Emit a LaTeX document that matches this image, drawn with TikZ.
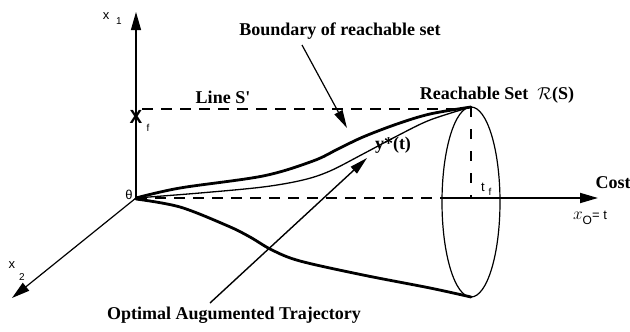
\documentclass[tikz,border=0pt]{standalone}
\usepackage{fontspec}
\setmainfont{Liberation Serif}
\setsansfont{Liberation Sans}
\usetikzlibrary{arrows.meta}
\tikzset{
  axis/.style={line width=1.2pt},
  bigarrow/.style={-{Triangle[length=18pt,width=10pt]}},
  boundary/.style={line width=2.8pt, line cap=round},
  thincurve/.style={line width=1.3pt},
  dashline/.style={line width=1.5pt, dash pattern=on 11pt off 8pt},
  lbl/.style={font=\bfseries\fontsize{18}{20}\selectfont, inner sep=0pt},
  axlbl/.style={font=\sffamily\fontsize{13}{14}\selectfont, inner sep=0pt},
  sublbl/.style={font=\sffamily\fontsize{10}{11}\selectfont, inner sep=0pt}
}
\begin{document}
\begin{tikzpicture}[x=1pt,y=-1pt]
\useasboundingbox (0,0) rectangle (630,332);
% key points
\coordinate (O) at (136,198);
\coordinate (T) at (471,107);
\coordinate (B) at (471,297);
\coordinate (C) at (471,202);
\coordinate (x1tip) at (136,12);
\coordinate (x2tip) at (12,298);
\coordinate (costtip) at (598,198);
\coordinate (ellL) at (442,198);
\coordinate (Sstart) at (142,109);
\coordinate (Send) at (455,109);
\coordinate (Tbot) at (471,197);
% axes
\draw[axis,bigarrow] (O) -- (x1tip);
\draw[axis,bigarrow] (O) -- (x2tip);
\draw[dashline] (O) -- (ellL);
\draw[axis,line width=1.8pt,bigarrow] (ellL) -- (costtip);
% line S'
\draw[dashline] (Sstart) -- (Send);
% ellipse
\draw[line width=1.2pt] (C) ellipse [x radius=29, y radius=95];
\draw[line width=1.4pt, dash pattern=on 10pt off 12pt] (T) -- (Tbot);
% upper boundary
\draw[boundary] plot[smooth, tension=0.55] coordinates
  {(136,198) (180,188) (263,176) (313,161) (338,149) (363,137) (397,124) (430,114) (471,107)};
% thin optimal trajectory
\draw[thincurve] plot[smooth, tension=0.55] coordinates
  {(136,198) (200,193) (263,187) (303,180) (330,171) (363,154) (397,136) (430,120) (471,107)};
% lower boundary
\draw[boundary] plot[smooth, tension=0.55] coordinates
  {(136,199) (180,207) (228,226) (250,237) (272,250) (300,261) (363,275) (430,288) (471,297)};
% labels
\node[axlbl] (lx1) at (106,16) {x};
\node[sublbl] (lx1s) at (119,21) {1};
\node[font=\sffamily\bfseries\fontsize{19}{20}\selectfont, inner sep=0pt] (lxf) at (136,117) {X};
\node[sublbl] (lxfs) at (148,128) {f};
\node[axlbl] (ltheta) at (129,195) {θ};
\node[axlbl] (lx2) at (12,265) {x};
\node[sublbl] (lx2s) at (22,277) {2};
\node[lbl] (lS) at (223,97) {Line S\textquotesingle};
\node[lbl] (lbound) at (340,31) {Boundary of reachable set};
\node[lbl] (lreach) at (497,95) {Reachable Set \ $\mathcal{R}$(S)};
\node[lbl] (ly) at (393,145) {y*(t)};
\node[axlbl] (ltf) at (483,187) {t};
\node[sublbl] (ltfs) at (490,192) {f};
\node[lbl] (lcost) at (613,183) {Cost};
\node[inner sep=0pt] (lx0) at (590,218) {\fontsize{16}{17}\selectfont$x$\raisebox{-5pt}{\sffamily\fontsize{12}{12}\selectfont O}\sffamily\fontsize{13}{14}\selectfont = t};
\node[lbl] (lopt) at (234,315) {Optimal Augumented Trajectory};
% pointer arrows
\coordinate (bstart) at (302,45);
\coordinate (btip) at (347,128);
\coordinate (ostart) at (210,303);
\coordinate (otip) at (367,158);
\draw[line width=1.2pt, -{Triangle[length=18pt,width=9pt]}] (bstart) -- (btip);
\draw[line width=1.4pt, -{Triangle[length=18pt,width=9pt]}] (ostart) -- (otip);
\end{tikzpicture}
\end{document}
